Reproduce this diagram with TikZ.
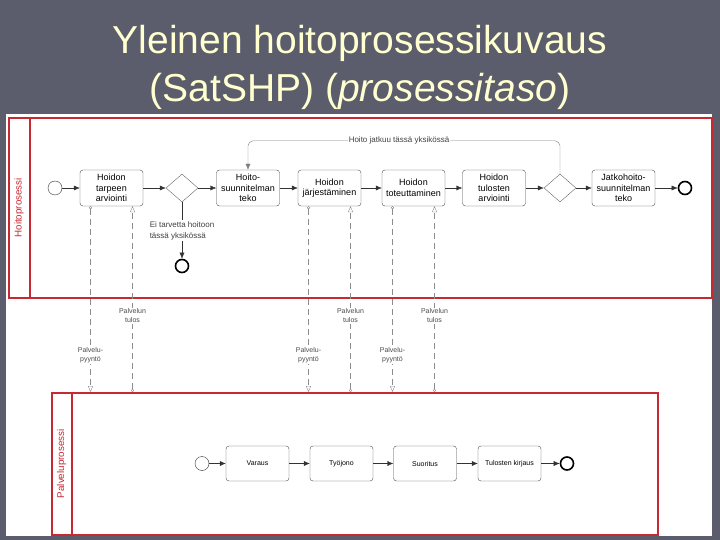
\documentclass[tikz,border=0pt]{standalone}
\usepackage{fontspec}
\setmainfont{Liberation Sans}
\usepackage{xcolor}
\usetikzlibrary{positioning, arrows.meta, shapes.geometric, calc}
\definecolor{slidebg}{RGB}{91,93,108}
\definecolor{titlecol}{RGB}{255,255,208}
\definecolor{poolred}{RGB}{200,40,50}

\tikzset{
  task/.style={rectangle, rounded corners=3pt, draw=black!70, fill=white, minimum width=63pt, minimum height=36pt, align=center, inner sep=1pt, font=\fontsize{9}{10.5}\selectfont},
  smalltask/.style={task, minimum height=35pt, font=\fontsize{7}{8}\selectfont},
  gateway/.style={diamond, draw=black!60, fill=white, minimum width=32pt, minimum height=28pt, inner sep=0pt},
  startev/.style={circle, draw=black!80, fill=white, minimum size=14pt, inner sep=0pt},
  endev/.style={circle, draw=black, line width=1.6pt, fill=white, minimum size=13pt, inner sep=0pt},
  flow/.style={draw=black!80, -{Latex[length=6pt, width=5pt]}},
  loopline/.style={draw=black!50, rounded corners=5pt, -{Latex[length=6pt, width=5pt]}},
  msg/.style={draw=black!45, dash pattern=on 6pt off 4pt, {Circle[open, length=3pt]}-{Triangle[open, length=6pt, width=5pt]}},
  msglabel/.style={fill=white, inner sep=1pt, align=center, text=black!70, font=\fontsize{7}{9}\selectfont},
  flowlabel/.style={fill=white, inner sep=1pt, align=left, text=black!75, font=\fontsize{8}{11}\selectfont},
  pool/.style={draw=poolred, line width=1.6pt, fill=white},
  lanelabel/.style={rotate=90, text=poolred, font=\fontsize{9.8}{11}\selectfont},
  slidetitle/.style={align=center, text=titlecol, font=\fontsize{39}{48}\selectfont},
}

\begin{document}
\begin{tikzpicture}[x=1pt, y=-1pt]
    \useasboundingbox (0,0) rectangle (720,540);
    \fill[slidebg] (0,0) rectangle (720,540);
    \fill[white] (6,114) rectangle (712,536);

    \node[slidetitle] (titel) at (360,67) {Yleinen hoitoprosessikuvaus\\(SatSHP) (\textit{prosessitaso})};

    % hoitoprosessi
    \node[pool, minimum width=703pt, minimum height=180pt, anchor=north west] (hoito) at (8,117) {};
    \draw[poolred, line width=1.6pt] ([xshift=22pt]hoito.north west) -- ([xshift=22pt]hoito.south west);
    \node[lanelabel] (hoitolbl) at ($(hoito.west)+(11,0)$) {Hoitoprosessi};

    \node[startev] (start1) at (55,188) {};
    \node[task, right of=start1, node distance=56.5pt] (tarve) {Hoidon\\tarpeen\\arviointi};
    \node[gateway, right of=tarve, node distance=70.5pt] (gw1) {};
    \node[task, right of=gw1, node distance=66pt] (suunn) {Hoito-\\suunnitelman\\teko};
    \node[task, right of=suunn, node distance=81.5pt] (jarj) {Hoidon\\järjestäminen};
    \node[task, right of=jarj, node distance=84pt] (toteut) {Hoidon\\toteuttaminen};
    \node[task, right of=toteut, node distance=80.5pt] (tulokset) {Hoidon\\tulosten\\arviointi};
    \node[gateway, right of=tulokset, node distance=66pt] (gw2) {};
    \node[task, right of=gw2, node distance=63.5pt] (jatko) {Jatkohoito-\\suunnitelman\\teko};
    \node[endev, right of=jatko, node distance=61.5pt] (end1) {};
    \node[endev, below of=gw1, node distance=78pt] (end2) {};

    \draw[flow] (start1) -- (tarve);
    \draw[flow] (tarve) -- (gw1);
    \draw[flow] (gw1) -- (suunn);
    \draw[flow] (suunn) -- (jarj);
    \draw[flow] (jarj) -- (toteut);
    \draw[flow] (toteut) -- (tulokset);
    \draw[flow] (tulokset) -- (gw2);
    \draw[flow] (gw2) -- (jatko);
    \draw[flow] (jatko) -- (end1);
    \draw[flow] (gw1) -- node[flowlabel] {Ei tarvetta hoitoon\\tässä yksikössä} (end2);
    \draw[loopline] (gw2.north) |- node[flowlabel, pos=0.758] {Hoito jatkuu tässä yksikössä} ($(suunn.north)+(0,-29)$) -- (suunn.north);

    % palveluprosessi
    \node[pool, minimum width=606pt, minimum height=142pt, anchor=north west] (palvelu) at (51,392) {};
    \draw[poolred, line width=1.6pt] ([xshift=21pt]palvelu.north west) -- ([xshift=21pt]palvelu.south west);
    \node[lanelabel] (palvelulbl) at ($(palvelu.west)+(10.5,0)$) {Palveluprosessi};

    \node[startev] (start2) at (202,463.5) {};
    \node[task, smalltask, right of=start2, node distance=55.5pt] (varaus) {Varaus};
    \node[task, smalltask, right of=varaus, node distance=84pt] (jono) {Työjono};
    \node[task, smalltask, right of=jono, node distance=83.5pt] (suoritus) {Suoritus};
    \node[task, smalltask, right of=suoritus, node distance=84.5pt] (kirjaus) {Tulosten kirjaus};
    \node[endev, right of=kirjaus, node distance=57.5pt] (end3) {};

    \draw[flow] (start2) -- (varaus);
    \draw[flow] (varaus) -- (jono);
    \draw[flow] (jono) -- (suoritus);
    \draw[flow] (suoritus) -- (kirjaus);
    \draw[flow] (kirjaus) -- (end3);

    % viestit
    \draw[msg] ([xshift=-21pt]tarve.south) -- ([xshift=-21pt]tarve.south |- palvelu.north) node[msglabel, pos=0.8] {Palvelu-\\pyyntö};
    \draw[msg] ([xshift=21pt]tarve.south |- palvelu.north) -- ([xshift=21pt]tarve.south) node[msglabel, pos=0.41] {Palvelun\\tulos};
    \draw[msg] ([xshift=-21pt]jarj.south) -- ([xshift=-21pt]jarj.south |- palvelu.north) node[msglabel, pos=0.8] {Palvelu-\\pyyntö};
    \draw[msg] ([xshift=21pt]jarj.south |- palvelu.north) -- ([xshift=21pt]jarj.south) node[msglabel, pos=0.41] {Palvelun\\tulos};
    \draw[msg] ([xshift=-21pt]toteut.south) -- ([xshift=-21pt]toteut.south |- palvelu.north) node[msglabel, pos=0.8] {Palvelu-\\pyyntö};
    \draw[msg] ([xshift=21pt]toteut.south |- palvelu.north) -- ([xshift=21pt]toteut.south) node[msglabel, pos=0.41] {Palvelun\\tulos};
\end{tikzpicture}
\end{document}
